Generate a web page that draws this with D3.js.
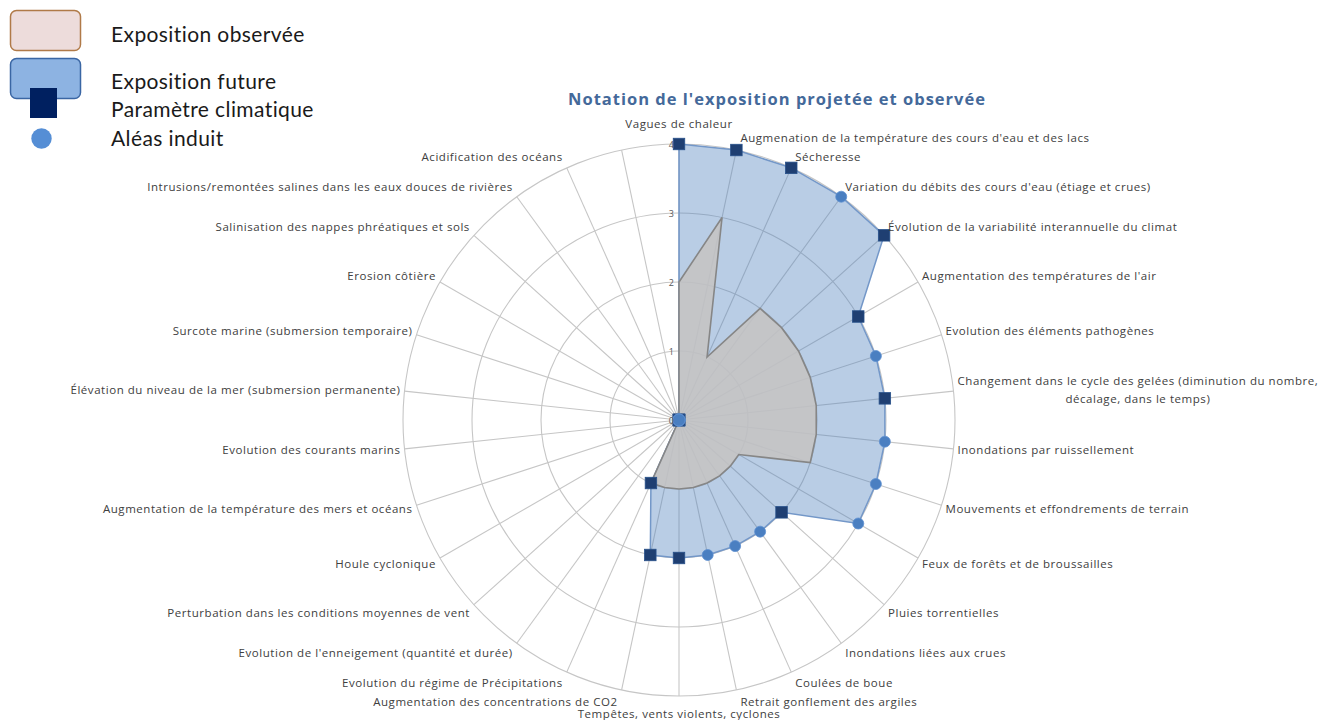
<!DOCTYPE html>
<html>
<head>
<meta charset="utf-8">
<script src="https://cdn.jsdelivr.net/npm/d3@7"></script>
<style>
  html, body { margin: 0; padding: 0; background: #ffffff; }
  svg { display: block; }
</style>
</head>
<body>
<svg id="chart" width="1325" height="720"></svg>
<script>
// ---------- DATA ----------
const categories = [
  "Vagues de chaleur",
  "Augmenation de la température des cours d'eau et des lacs",
  "Sécheresse",
  "Variation du débits des cours d'eau (étiage et crues)",
  "Évolution de la variabilité interannuelle du climat",
  "Augmentation des températures de l'air",
  "Evolution des éléments pathogènes",
  "Changement dans le cycle des gelées (diminution du nombre,\ndécalage, dans le temps)",
  "Inondations par ruissellement",
  "Mouvements et effondrements de terrain",
  "Feux de forêts et de broussailles",
  "Pluies torrentielles",
  "Inondations liées aux crues",
  "Coulées de boue",
  "Retrait gonflement des argiles",
  "Tempêtes, vents violents, cyclones",
  "Augmentation des concentrations de CO2",
  "Evolution du régime de Précipitations",
  "Evolution de l'enneigement (quantité et durée)",
  "Perturbation dans les conditions moyennes de vent",
  "Houle cyclonique",
  "Augmentation de la température des mers et océans",
  "Evolution des courants marins",
  "Élévation du niveau de la mer (submersion permanente)",
  "Surcote marine (submersion temporaire)",
  "Erosion côtière",
  "Salinisation des nappes phréatiques et sols",
  "Intrusions/remontées salines dans les eaux douces de rivières",
  "Acidification des océans",
  ""
];

// Exposition future (filled blue area)
const expositionFuture = [4,4,4,4,4,3,3,3,3,3,3,2,2,2,2,2,2,1,0,0,0,0,0,0,0,0,0,0,0,0];
// Exposition observée (filled grey area)
const expositionObservee = [2,3,1,2,2,2,2,2,2,2,1,1,1,1,1,1,1,1,0,0,0,0,0,0,0,0,0,0,0,0];
// Paramètre climatique (square markers) – null where not applicable
const parametreClimatique = [4,4,4,null,4,3,null,3,null,null,null,2,null,null,null,2,2,1,0,0,null,0,0,0,null,null,null,null,0,null];
// Aléas induit (circle markers)
const aleasInduit = [null,null,null,4,null,null,3,null,3,3,3,null,2,2,2,null,null,null,null,null,0,null,null,null,0,0,0,0,null,null];

const tickValues = [0,1,2,3,4];
const titleText = "Notation de l'exposition projetée et observée";
const legendLabels = ["Exposition observée", "Exposition future", "Paramètre climatique", "Aléas induit"];

// ---------- LAYOUT ----------
const svg = d3.select("#chart");
const cx = 679, cy = 420, R = 276;
const n = categories.length;
const r = d3.scaleLinear().domain([0, 4]).range([0, R]);
const angle = d3.scaleLinear().domain([0, n]).range([0, 2 * Math.PI]);
const pt = (i, v) => [cx + r(v) * Math.sin(angle(i)), cy - r(v) * Math.cos(angle(i))];

const gridColor = "#c6c6c6";
const labelFont = "'Open Sans', sans-serif";

// Grid circles
const g = svg.append("g");
g.selectAll("circle.grid").data(tickValues.filter(d => d > 0)).join("circle")
  .attr("cx", cx).attr("cy", cy).attr("r", d => r(d))
  .attr("fill", "none").attr("stroke", gridColor).attr("stroke-width", 1.1);

// Spokes
g.selectAll("line.spoke").data(d3.range(n)).join("line")
  .attr("x1", cx).attr("y1", cy)
  .attr("x2", i => pt(i, 4)[0]).attr("y2", i => pt(i, 4)[1])
  .attr("stroke", gridColor).attr("stroke-width", 1.1);

// Areas
const radial = d3.lineRadial()
  .angle((d, i) => angle(i))
  .radius(d => r(d))
  .curve(d3.curveLinearClosed);

svg.append("path")
  .attr("transform", `translate(${cx},${cy})`)
  .attr("d", radial(expositionFuture))
  .attr("fill", "#4f81bd").attr("fill-opacity", 0.4)
  .attr("stroke", "#7397c8").attr("stroke-width", 1.5);

svg.append("path")
  .attr("transform", `translate(${cx},${cy})`)
  .attr("d", radial(expositionObservee))
  .attr("fill", "#c6c3c2").attr("fill-opacity", 0.85)
  .attr("stroke", "#868686").attr("stroke-width", 1.6);

// Markers: squares then circles
const sq = 11.5;
svg.append("g").selectAll("rect")
  .data(parametreClimatique.map((v, i) => ({v, i})).filter(d => d.v !== null))
  .join("rect")
  .attr("x", d => pt(d.i, d.v)[0] - sq / 2)
  .attr("y", d => pt(d.i, d.v)[1] - sq / 2)
  .attr("width", sq).attr("height", sq)
  .attr("fill", "#1f3f72").attr("stroke", "#27508a").attr("stroke-width", 0.8);

svg.append("g").selectAll("circle")
  .data(aleasInduit.map((v, i) => ({v, i})).filter(d => d.v !== null))
  .join("circle")
  .attr("cx", d => pt(d.i, d.v)[0])
  .attr("cy", d => pt(d.i, d.v)[1])
  .attr("r", d => d.v === 0 ? 6 : 5.5)
  .attr("fill", "#4a7fc1").attr("stroke", "#5d8fd0").attr("stroke-width", 0.8);

// Tick labels
svg.append("g").selectAll("text").data(tickValues).join("text")
  .attr("x", cx - 5).attr("y", d => cy - r(d) + 3.5)
  .attr("text-anchor", "end")
  .attr("font-family", labelFont).attr("font-size", 9)
  .attr("fill", "#595959")
  .text(d => d);

// Category labels
const labG = svg.append("g")
  .attr("font-family", labelFont).attr("font-size", 11.5)
  .attr("letter-spacing", "0.55px").attr("fill", "#404040");
categories.forEach((c, i) => {
  if (!c) return;
  const a = angle(i);
  const s = Math.sin(a), co = Math.cos(a);
  const [px, py] = pt(i, 4);
  const lines = c.split("\n");
  const lh = 18;
  const t = labG.append("text");
  lines.forEach(l => t.append("tspan").text(l));
  let anchor, x, yc;
  if (Math.abs(s) < 0.01) {
    anchor = "middle"; x = px; yc = py - co * (co > 0 ? 20 : 18);
  } else {
    anchor = s > 0 ? "start" : "end";
    x = px + (s > 0 ? 4 : -4);
    yc = py - co * 12;
  }
  const y0 = yc - (lines.length - 1) * lh / 2;
  if (lines.length === 1) {
    t.attr("text-anchor", anchor);
    t.select("tspan").attr("x", x).attr("y", y0).attr("dy", "0.35em");
  } else {
    t.attr("text-anchor", "middle");
    let w = 0;
    t.selectAll("tspan").each(function () { w = Math.max(w, this.getComputedTextLength()); });
    const xm = anchor === "start" ? x + w / 2 : x - w / 2;
    t.selectAll("tspan").attr("x", xm).attr("y", (d, k) => y0 + k * lh).attr("dy", "0.35em");
  }
});

// Title
svg.append("text")
  .attr("x", 777).attr("y", 99).attr("dy", "0.35em")
  .attr("text-anchor", "middle")
  .attr("font-family", labelFont).attr("font-weight", "bold").attr("font-size", 16.5)
  .attr("letter-spacing", "1px")
  .attr("fill", "#44699a")
  .text(titleText);

// Legend
const lg = svg.append("g");
lg.append("rect").attr("x", 10.5).attr("y", 10.5).attr("width", 70).attr("height", 40).attr("rx", 6)
  .attr("fill", "#eddcdb").attr("stroke", "#b07a48").attr("stroke-width", 1.5);
lg.append("rect").attr("x", 10.5).attr("y", 58.5).attr("width", 70).attr("height", 40).attr("rx", 6)
  .attr("fill", "#8db3e2").attr("stroke", "#3a66a4").attr("stroke-width", 1.5);
lg.append("rect").attr("x", 30).attr("y", 88).attr("width", 27).attr("height", 30)
  .attr("fill", "#002060");
lg.append("circle").attr("cx", 41.5).attr("cy", 138.5).attr("r", 10.2)
  .attr("fill", "#558ed5");
const legendY = [35, 82, 110, 139];
lg.selectAll("text").data(legendLabels).join("text")
  .attr("x", 111).attr("y", (d, k) => legendY[k]).attr("dy", "0.35em")
  .attr("font-family", "Lato, sans-serif").attr("font-size", 21)
  .attr("letter-spacing", "0.4px")
  .attr("fill", "#1a1a1a")
  .text(d => d);
</script>
</body>
</html>
